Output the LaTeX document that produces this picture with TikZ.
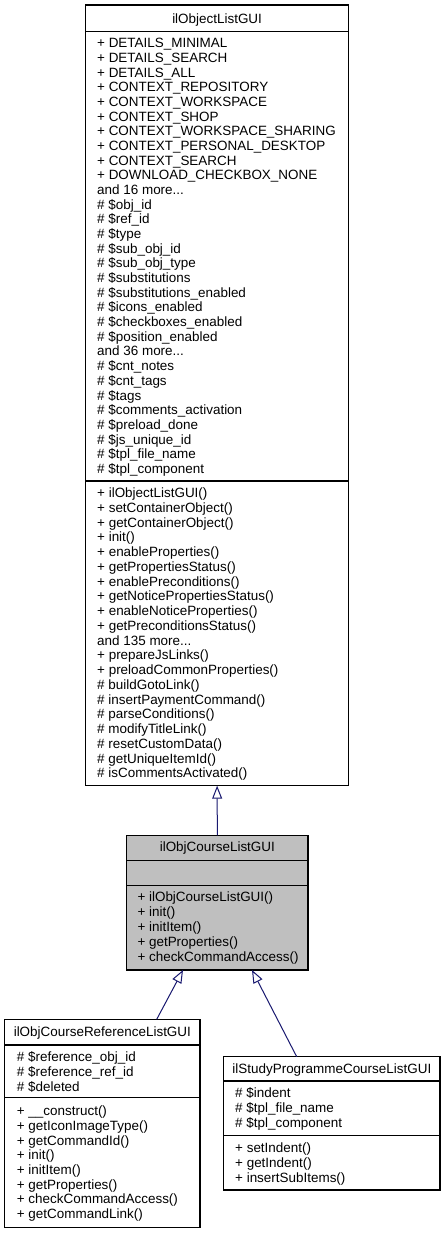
\documentclass[tikz,border=0pt]{standalone}
\usepackage{fontspec}
\setmainfont{Liberation Sans}
\usetikzlibrary{arrows.meta}
\definecolor{edgeblue}{HTML}{191970}
\definecolor{boxgray}{HTML}{BFBFBF}
\newcommand\mdots{...}
\tikzset{
 classbox/.style={draw=black, line width=1.1pt, anchor=north west, inner sep=0pt, outer sep=0pt},
 memtext/.style={anchor=base west, inner sep=0pt, font=\fontsize{13.45}{14.7}\selectfont},
 titletext/.style={anchor=base, inner sep=0pt, font=\fontsize{13.45}{14.7}\selectfont},
 sepline/.style={draw=black, line width=1.1pt},
 inherit/.style={draw=edgeblue, line width=1pt, -{Triangle[open, length=13pt, width=10pt, fill=white]}},
}
\newcommand\memberlist[5]{\foreach \txt [count=\k] in {#5} {\node[memtext] (#1-\k) at (#2,{#3+(\k-1)*#4}) {\txt};}}
\begin{document}
\begin{tikzpicture}[x=1pt,y=-1pt]
\useasboundingbox[fill=white] (0,0) rectangle (445,1233);

% ---- ilObjectListGUI ----
\node[classbox, fill=white, minimum width=263.2pt, minimum height=780.7pt] (objlist) at (85.5,5) {};
\draw[sepline] ([yshift=-26.7pt]objlist.north west) -- ([yshift=-26.7pt]objlist.north east);
\draw[sepline] ([yshift=-476pt]objlist.north west) -- ([yshift=-476pt]objlist.north east);
\node[titletext] (objlist-t) at (217.1,23.3) {ilObjectListGUI};
\memberlist{oa}{97}{47.7}{14.68}{+ DETAILS\_MINIMAL, + DETAILS\_SEARCH, + DETAILS\_ALL, + CONTEXT\_REPOSITORY, + CONTEXT\_WORKSPACE, + CONTEXT\_SHOP, + CONTEXT\_WORKSPACE\_SHARING, + CONTEXT\_PERSONAL\_DESKTOP, + CONTEXT\_SEARCH, + DOWNLOAD\_CHECKBOX\_NONE, and 16 more\mdots, \# \$obj\_id, \# \$ref\_id, \# \$type, \# \$sub\_obj\_id, \# \$sub\_obj\_type, \# \$substitutions, \# \$substitutions\_enabled, \# \$icons\_enabled, \# \$checkboxes\_enabled, \# \$position\_enabled, and 36 more\mdots, \# \$cnt\_notes, \# \$cnt\_tags, \# \$tags, \# \$comments\_activation, \# \$preload\_done, \# \$js\_unique\_id, \# \$tpl\_file\_name, \# \$tpl\_component}
\memberlist{om}{97}{497.7}{14.74}{+ ilObjectListGUI(), + setContainerObject(), + getContainerObject(), + init(), + enableProperties(), + getPropertiesStatus(), + enablePreconditions(), + getNoticePropertiesStatus(), + enableNoticeProperties(), + getPreconditionsStatus(), and 135 more\mdots, + prepareJsLinks(), + preloadCommonProperties(), \# buildGotoLink(), \# insertPaymentCommand(), \# parseConditions(), \# modifyTitleLink(), \# resetCustomData(), \# getUniqueItemId(), \# isCommentsActivated()}

% ---- ilObjCourseListGUI ----
\node[classbox, fill=boxgray, minimum width=181.3pt, minimum height=134.7pt] (course) at (126.7,835.3) {};
\draw[sepline] ([yshift=-25.4pt]course.north west) -- ([yshift=-25.4pt]course.north east);
\draw[sepline] ([yshift=-50.4pt]course.north west) -- ([yshift=-50.4pt]course.north east);
\node[titletext] (course-t) at (217.35,851.7) {ilObjCourseListGUI};
\memberlist{cm}{137.3}{901.7}{14.85}{+ ilObjCourseListGUI(), + init(), + initItem(), + getProperties(), + checkCommandAccess()}

% ---- ilObjCourseReferenceListGUI ----
\node[classbox, fill=white, minimum width=195.3pt, minimum height=208pt] (crsref) at (4.7,1019.3) {};
\draw[sepline] ([yshift=-25.7pt]crsref.north west) -- ([yshift=-25.7pt]crsref.north east);
\draw[sepline] ([yshift=-78.4pt]crsref.north west) -- ([yshift=-78.4pt]crsref.north east);
\node[titletext] (crsref-t) at (102.35,1036.7) {ilObjCourseReferenceListGUI};
\memberlist{ra}{16.7}{1061.7}{14.7}{\# \$reference\_obj\_id, \# \$reference\_ref\_id, \# \$deleted}
\memberlist{rm}{16.7}{1115.7}{14.7}{+ \_\_construct(), + getIconImageType(), + getCommandId(), + init(), + initItem(), + getProperties(), + checkCommandAccess(), + getCommandLink()}

% ---- ilStudyProgrammeCourseListGUI ----
\node[classbox, fill=white, minimum width=216.3pt, minimum height=133.3pt] (studyprog) at (223.7,1056.7) {};
\draw[sepline] ([yshift=-24.3pt]studyprog.north west) -- ([yshift=-24.3pt]studyprog.north east);
\draw[sepline] ([yshift=-78.6pt]studyprog.north west) -- ([yshift=-78.6pt]studyprog.north east);
\node[titletext] (studyprog-t) at (331.85,1073.3) {ilStudyProgrammeCourseListGUI};
\memberlist{sa}{235}{1097.7}{14.7}{\# \$indent, \# \$tpl\_file\_name, \# \$tpl\_component}
\memberlist{sm}{235}{1152.7}{14.7}{+ setIndent(), + getIndent(), + insertSubItems()}

% ---- inheritance arrows ----
\draw[inherit] (course.north) -- (objlist.south);
\draw[inherit] ([xshift=152pt]crsref.north west) -- ([xshift=56.3pt]course.south west);
\draw[inherit] ([xshift=73pt]studyprog.north west) -- ([xshift=125.3pt]course.south west);
\end{tikzpicture}
\end{document}
